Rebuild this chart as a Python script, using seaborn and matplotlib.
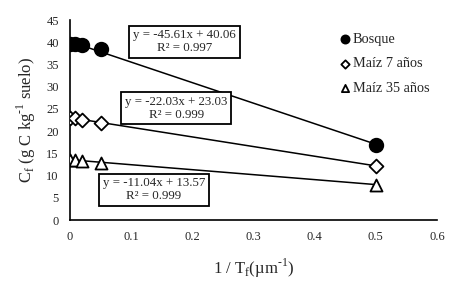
import seaborn as sns
import matplotlib.pyplot as plt
import pandas as pd

inv_tf = [0.0, 0.008, 0.02, 0.05, 0.5]
bosque = [39.6, 39.6, 39.5, 38.4, 17.0]
maiz7 = [23.0, 23.0, 22.6, 21.9, 12.2]
maiz35 = [13.6, 13.6, 13.4, 12.8, 8.0]
series = ['Bosque', 'Maíz 7 años', 'Maíz 35 años']
equations = ['y = -45.61x + 40.06\nR² = 0.997',
             'y = -22.03x + 23.03\nR² = 0.999',
             'y = -11.04x + 13.57\nR² = 0.999']

df = pd.DataFrame({
    'x': inv_tf * 3,
    'y': bosque + maiz7 + maiz35,
    'serie': [s for s in series for _ in inv_tf],
})

sns.set_theme(style='white')
plt.rcParams['font.family'] = ['Liberation Serif', 'DejaVu Serif']
plt.rcParams['mathtext.fontset'] = 'custom'
plt.rcParams['mathtext.rm'] = 'Liberation Serif'
plt.rcParams['axes.unicode_minus'] = False

fig = plt.figure(figsize=(4.53, 2.95), dpi=100)
ax = fig.add_axes([0.1545, 0.254, 0.81, 0.678])

for s in series:
    sub = df[df['serie'] == s]
    sns.regplot(data=sub, x='x', y='y', ax=ax, ci=None, scatter=False,
                truncate=True, line_kws={'color': 'black', 'lw': 1.1})

markers = {'Bosque': 'o', 'Maíz 7 años': 'D', 'Maíz 35 años': '^'}
for s in series:
    sub = df[df['serie'] == s]
    filled = s == 'Bosque'
    ax.scatter(sub['x'], sub['y'], marker=markers[s],
               s=95 if filled else (50 if s == 'Maíz 7 años' else 75),
               facecolor='black' if filled else 'white',
               edgecolor='black', linewidth=1.3, zorder=3, label=s)

ax.set_xlim(0, 0.6)
ax.set_ylim(0, 45)
ax.set_xticks([0, 0.1, 0.2, 0.3, 0.4, 0.5, 0.6])
ax.set_xticklabels(['0', '0.1', '0.2', '0.3', '0.4', '0.5', '0.6'])
ax.set_yticks(range(0, 50, 5))
ax.tick_params(labelsize=9, length=0, pad=8)
for sp in ['top', 'right']:
    ax.spines[sp].set_visible(False)
for sp in ['left', 'bottom']:
    ax.spines[sp].set_color('black')
    ax.spines[sp].set_linewidth(1.2)

ax.set_xlabel('1 / T$_\\mathregular{f}$(µm$^{\\text{-1}}$)', fontsize=12, labelpad=10)
ax.set_ylabel('C$_\\mathregular{f}$ (g C kg$^{\\text{-1}}$ suelo)', fontsize=12, labelpad=6)

box = dict(boxstyle='square,pad=0.3', facecolor='white', edgecolor='black', lw=1.3)
pos = [(0.187, 40.1), (0.174, 25.2), (0.137, 6.8)]
for (px, py), eq in zip(pos, equations):
    ax.text(px, py, eq, ha='center', va='center', fontsize=9.3,
            linespacing=1.1, bbox=box, zorder=4)

ax.legend(loc='upper left', bbox_to_anchor=(0.695, 1.0), frameon=False,
          fontsize=10.3, handletextpad=0.05, labelspacing=0.8, markerscale=0.6,
          handlelength=1)

fig.savefig('out.png', dpi=100)
